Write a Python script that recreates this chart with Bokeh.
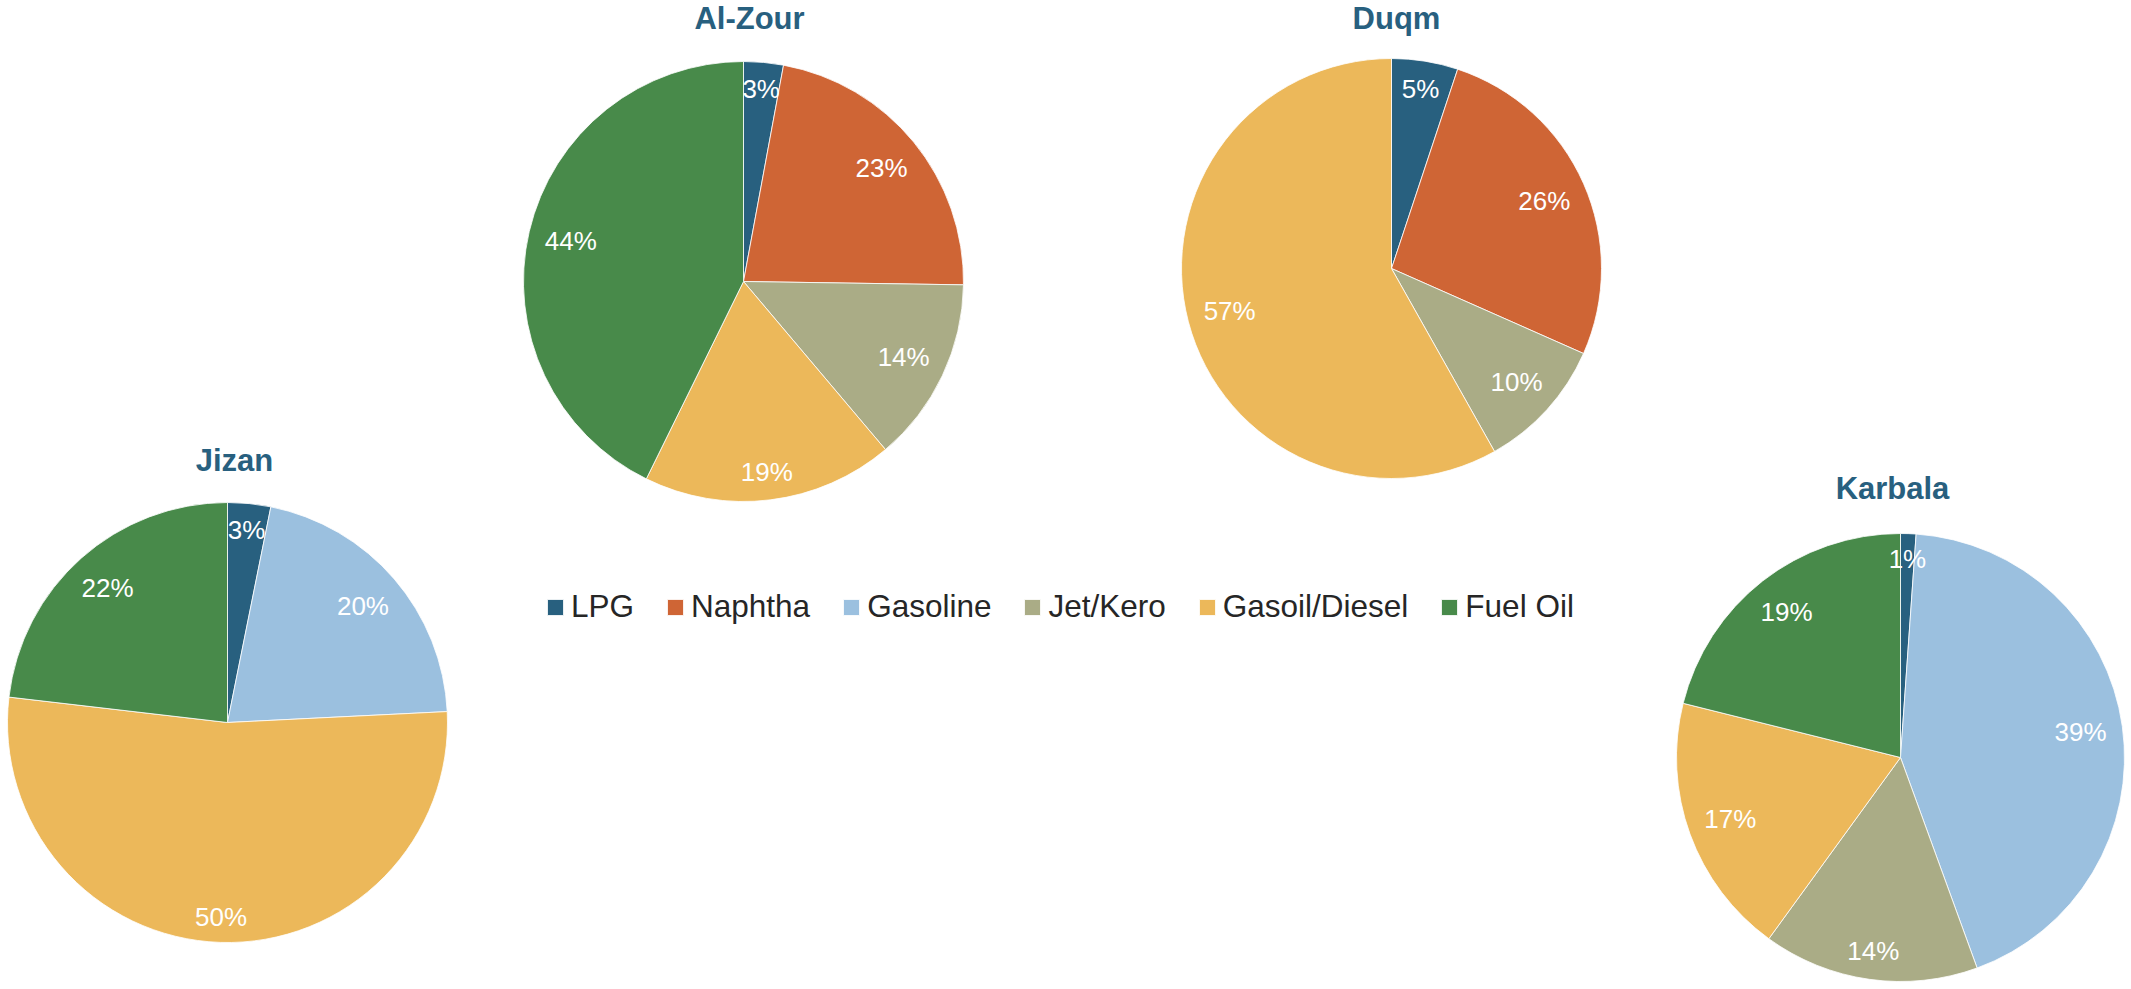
import math
from bokeh.plotting import figure
from bokeh.models import Range1d, ColumnDataSource, Legend, LegendItem
from bokeh.core.properties import value
from bokeh.embed import file_html
from bokeh.resources import INLINE

# ---------------- data ----------------
categories = ["LPG", "Naphtha", "Gasoline", "Jet/Kero", "Gasoil/Diesel", "Fuel Oil"]
colors = ["#28607F", "#CF6535", "#9BC0DF", "#AAAC86", "#ECB85A", "#488A4A"]

refineries = ["Al-Zour", "Duqm", "Jizan", "Karbala"]
# product yield shares (%), in category order; 0 = not produced
al_zour = [3, 23, 0, 14, 19, 44]
duqm = [5, 26, 0, 10, 57, 0]
jizan = [3, 0, 20, 0, 50, 22]
karbala = [1, 0, 39, 14, 17, 19]
shares = [al_zour, duqm, jizan, karbala]

# ---------------- layout (page pixels) ----------------
W, H = 2131, 985
PAGE_H = 989
pie_layout = {
    "Al-Zour": dict(cx=743, cy=281, r=220, tx=749, ty=17.5),
    "Duqm": dict(cx=1391, cy=268, r=210, tx=1396, ty=17.8),
    "Jizan": dict(cx=227, cy=722, r=220, tx=234, ty=459.5),
    "Karbala": dict(cx=1900, cy=757, r=224, tx=1892, ty=487.8),
}
FONT = "Liberation Sans"
TITLE_COLOR = "#28607F"
LABEL_FS = 26


def fy(Y):
    return PAGE_H - Y


p = figure(width=W, height=H, output_backend="svg", toolbar_location=None,
           x_range=Range1d(0, W), y_range=Range1d(PAGE_H - H, PAGE_H),
           x_axis_type=None, y_axis_type=None, min_border=0,
           outline_line_color=None, background_fill_color="white",
           border_fill_color="white")
p.grid.visible = False

# wedges: one renderer per category spanning all pies
cat_data = {c: dict(x=[], y=[], r=[], s=[], e=[]) for c in categories}
lab = dict(x=[], y=[], t=[])
for name, vals in zip(refineries, shares):
    L = pie_layout[name]
    total = float(sum(vals))
    cum = 0.0
    for c, v in zip(categories, vals):
        if v <= 0:
            continue
        f0 = cum / total
        f1 = (cum + v) / total
        cum += v
        d = cat_data[c]
        d["x"].append(L["cx"])
        d["y"].append(fy(L["cy"]))
        d["r"].append(L["r"])
        d["s"].append(math.pi / 2 - 2 * math.pi * f1)
        d["e"].append(math.pi / 2 - 2 * math.pi * f0)
        # inside-end label placement
        th = 2 * math.pi * (f0 + f1) / 2
        txt = f"{v}%"
        hw = LABEL_FS * (0.556 * (len(txt) - 1) + 0.889) / 2
        hh = 10
        dist = L["r"] - 15 - (hw * abs(math.sin(th)) + hh * abs(math.cos(th)))
        lab["x"].append(L["cx"] + dist * math.sin(th))
        lab["y"].append(fy(L["cy"] - dist * math.cos(th)))
        lab["t"].append(txt)

renderers = []
for c, col in zip(categories, colors):
    src = ColumnDataSource(cat_data[c])
    r = p.wedge(x="x", y="y", radius="r", start_angle="s", end_angle="e",
                source=src, fill_color=col, line_color="white", line_width=0.8)
    renderers.append(r)

p.text(x="x", y="y", text="t", source=ColumnDataSource(lab),
       text_align="center", text_baseline="middle", text_color="white",
       text_font=value(FONT), text_font_size=f"{LABEL_FS}px")

# titles
tsrc = ColumnDataSource(dict(
    x=[pie_layout[n]["tx"] for n in refineries],
    y=[fy(pie_layout[n]["ty"]) for n in refineries],
    t=refineries))
p.text(x="x", y="y", text="t", source=tsrc, text_align="center",
       text_baseline="middle", text_color=TITLE_COLOR,
       text_font=value(FONT), text_font_style="bold", text_font_size="31px")

legend = Legend(items=[LegendItem(label=c, renderers=[r]) for c, r in zip(categories, renderers)],
                orientation="horizontal", location=(545, 360),
                glyph_width=20, glyph_height=20, label_standoff=6, spacing=31,
                padding=0, margin=0, border_line_color=None,
                background_fill_alpha=0,
                label_text_font=FONT, label_text_font_size="31.5px",
                label_text_color="#262626")
p.add_layout(legend)

open("out.html", "w").write(file_html(p, INLINE))
